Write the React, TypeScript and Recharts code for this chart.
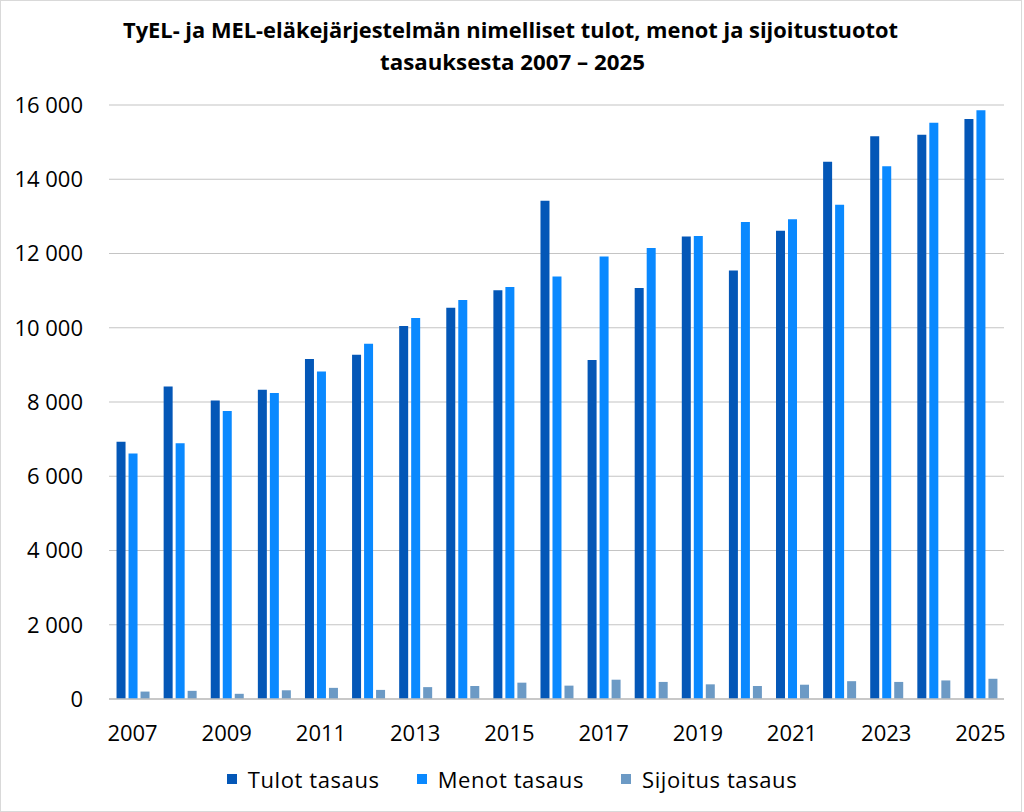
import { BarChart, Bar, XAxis, YAxis, CartesianGrid, Legend } from 'recharts'

const years = [
  '2007', '2008', '2009', '2010', '2011', '2012', '2013', '2014', '2015', '2016',
  '2017', '2018', '2019', '2020', '2021', '2022', '2023', '2024', '2025',
]
const tulot = [6930, 8420, 8040, 8330, 9160, 9270, 10050, 10540, 11010, 13420, 9130, 11070, 12460, 11540, 12610, 14470, 15160, 15200, 15620]
const menot = [6610, 6890, 7760, 8240, 8820, 9570, 10260, 10750, 11100, 11380, 11920, 12150, 12470, 12850, 12920, 13310, 14350, 15520, 15860]
const sijoitus = [200, 220, 140, 235, 300, 245, 320, 350, 440, 360, 520, 460, 395, 350, 385, 480, 460, 500, 545]
const yTicks = [0, 2000, 4000, 6000, 8000, 10000, 12000, 14000, 16000]

const series = [
  { key: 'tulot', name: 'Tulot tasaus', color: '#0457B7' },
  { key: 'menot', name: 'Menot tasaus', color: '#0A89FF' },
  { key: 'sijoitus', name: 'Sijoitus tasaus', color: '#6C9AC5' },
]

const data = years.map((year, i) => ({
  year,
  tulot: tulot[i],
  menot: menot[i],
  sijoitus: sijoitus[i],
}))

const font = "'Open Sans', sans-serif"
const fmt = (v: number) => String(v).replace(/\B(?=(\d{3})+(?!\d))/g, ' ')

function LegendBox() {
  return (
    <div
      style={{
        height: 40,
        display: 'flex',
        alignItems: 'center',
        justifyContent: 'center',
        gap: 37,
        fontFamily: font,
        fontSize: 22,
        letterSpacing: 0.6,
        color: '#000',
      }}
    >
      {series.map((s) => (
        <div key={s.key} style={{ display: 'flex', alignItems: 'center' }}>
          <span style={{ width: 10, height: 10, background: s.color, marginRight: 11, display: 'inline-block' }} />
          <span>{s.name}</span>
        </div>
      ))}
    </div>
  )
}

export default function App() {
  return (
    <div style={{ position: 'absolute', left: 0, top: 0, width: 1024, height: 812, background: '#fff' }}>
      <div
        style={{
          position: 'absolute', left: 0, top: 0, width: 1022, height: 812,
          border: '1px solid #d9d9d9', boxSizing: 'border-box',
        }}
      />
      {/* title */}
      <svg width={1024} height={90} style={{ position: 'absolute', left: 0, top: 0 }}>
        <text x={510.5} y={37.7} textAnchor="middle" fontFamily={font} fontWeight={700} fontSize={21}
          textLength={775} lengthAdjust="spacingAndGlyphs" fill="#000">
          TyEL- ja MEL-eläkejärjestelmän nimelliset tulot, menot ja sijoitustuotot
        </text>
        <text x={512.5} y={70} textAnchor="middle" fontFamily={font} fontWeight={700} fontSize={21}
          textLength={265} lengthAdjust="spacingAndGlyphs" fill="#000">
          tasauksesta 2007 – 2025
        </text>
      </svg>
      <div style={{ position: 'absolute', left: 0, top: 0 }}>
        <BarChart
          width={1024}
          height={812}
          data={data}
          margin={{ top: 105, right: 20, left: 0, bottom: 13 }}
          barCategoryGap="16%"
          barGap={3}
        >
          <CartesianGrid vertical={false} stroke="#c4c4c4" strokeWidth={1.2} />
          <XAxis
            dataKey="year"
            interval={1}
            tickLine={false}
            tickSize={0}
            tickMargin={26}
            height={60}
            axisLine={{ stroke: '#bfbfbf', strokeWidth: 1.5 }}
            tick={{ fill: '#000', fontSize: 22, fontFamily: font }}
          />
          <YAxis
            domain={[0, 16000]}
            ticks={yTicks}
            width={109}
            axisLine={false}
            tickLine={false}
            tickSize={0}
            tickMargin={26}
            tickFormatter={fmt}
            tick={{ fill: '#000', fontSize: 22, fontFamily: font }}
          />
          <Legend
            verticalAlign="bottom"
            content={<LegendBox />}
            wrapperStyle={{ left: 0, width: 1024 }}
          />
          {series.map((s) => (
            <Bar key={s.key} dataKey={s.key} name={s.name} fill={s.color} isAnimationActive={false} />
          ))}
        </BarChart>
      </div>
    </div>
  )
}
